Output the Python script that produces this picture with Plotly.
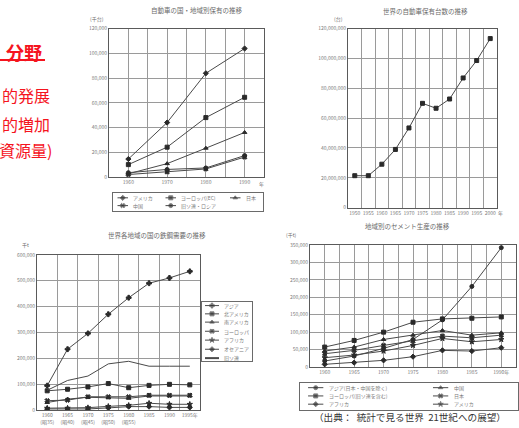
import plotly.graph_objects as go

W, H = 519, 428
FONT = "Noto Sans CJK JP"
RED = "#f5141e"
INK = "#4a4a4a"
TXT = "#7a7a7a"
GRID = "#9a9a9a"

# ---------- 自動車の国・地域別保有の推移 (千台) ----------
c1_years = ["1960", "1970", "1980", "1990"]
c1_names = ["アメリカ", "ヨーロッパ(EC)", "日本", "中国", "旧ソ連・ロシア"]
c1_s1 = [14600, 44100, 83900, 103900]
c1_s2 = [10100, 24200, 48100, 64500]
c1_s3 = [2700, 10900, 23400, 36100]
c1_s4 = [2100, 4200, 6600, 16200]
c1_s5 = [3600, 6200, 7400, 17400]
c1_yticks = [0, 20000, 40000, 60000, 80000, 100000, 120000]

# ---------- 世界の自動車保有台数の推移 (台) ----------
c2_years = ["1950", "1955", "1960", "1965", "1970", "1975",
            "1980", "1985", "1990", "1995", "2000"]
c2_values = [21400000, 21400000, 29100000, 39000000, 53400000, 69900000,
             66600000, 72800000, 86900000, 98600000, 113300000]
c2_yticks = [0, 20000000, 40000000, 60000000, 80000000, 100000000, 120000000]

# ---------- 世界各地域の国の鉄鋼需要の推移 (千t) ----------
c3_years = ["1960<br>(昭35)", "1965<br>(昭40)", "1970<br>(昭45)", "1975<br>(昭50)",
            "1980<br>(昭55)", "1985", "1990", "1995年"]
c3_names = ["アジア", "北アメリカ", "南アメリカ", "ヨーロッパ", "アフリカ", "オセアニア", "旧ソ連"]
c3_asia = [95000, 235700, 296800, 370700, 434400, 490400, 510800, 536300]
c3_namerica = [75000, 81000, 90000, 103000, 87000, 96000, 100000, 98000]
c3_samerica = [30000, 43000, 50000, 48000, 46000, 55000, 55000, 55000]
c3_europe = [37000, 39000, 52000, 52000, 52000, 58000, 58000, 58000]
c3_africa = [8000, 8000, 10000, 15000, 19000, 27000, 23000, 23000]
c3_oceania = [5000, 5000, 5000, 9000, 14000, 14000, 11000, 11000]
c3_ussr = [77000, 115000, 132000, 179000, 189000, 170000, 170000, 170000]
c3_yticks = [0, 100000, 200000, 300000, 400000, 500000, 600000]

# ---------- 地域別のセメント生産の推移 (千t) ----------
c4_years = ["1960", "1965", "1970", "1975", "1980", "1985", "1990年"]
c4_names = ["アジア(日本・中国を除く)", "ヨーロッパ(旧ソ連を含む)", "アフリカ",
            "中国", "日本", "アメリカ"]
c4_s1 = [17100, 31400, 53300, 78900, 135100, 231100, 342400]
c4_s2 = [57100, 76100, 99900, 128400, 137900, 139800, 143600]
c4_s3 = [7600, 12400, 19000, 29500, 47600, 45700, 55200]
c4_s4 = [45700, 57100, 78900, 91300, 104600, 91300, 98000]
c4_s5 = [38000, 47600, 61800, 74200, 88500, 83700, 91300]
c4_s6 = [26600, 34200, 45700, 61800, 81800, 72300, 78900]
c4_yticks = [0, 50000, 100000, 150000, 200000, 250000, 300000, 350000]


def px_x(p):
    return p / W


def px_y(p):
    return 1 - p / H


fig = go.Figure()
layout = {}
annotations = []


def add_panel(idx, box, labels, yticks, grid_on_points):
    """Axis pair for one panel; box = (left, top, right, bottom) in pixels."""
    l, t, r, b = box
    n = len(labels)
    xa = dict(
        domain=[px_x(l), px_x(r)], range=[-0.5, n - 0.5], anchor=f"y{idx}",
        tickmode="array", tickvals=list(range(n)), ticktext=labels,
        showgrid=grid_on_points, gridcolor=GRID, gridwidth=1,
        minor=dict(tick0=-0.5, dtick=1, showgrid=True, gridcolor=GRID, gridwidth=1),
        showline=True, mirror=True, linecolor="#5a5a5a", linewidth=1,
        ticks="", zeroline=False, fixedrange=True,
        tickfont=dict(family=FONT, size=5, color=TXT),
    )
    ya = dict(
        domain=[px_y(b), px_y(t)], range=[0, yticks[-1]], anchor=f"x{idx}",
        tickmode="array", tickvals=yticks,
        ticktext=[f"{v:,}" for v in yticks],
        showgrid=True, gridcolor=GRID, gridwidth=1,
        showline=True, mirror=True, linecolor="#5a5a5a", linewidth=1,
        ticks="", zeroline=False, fixedrange=True,
        tickfont=dict(family=FONT, size=5, color=TXT),
    )
    layout[f"xaxis{idx}"] = xa
    layout[f"yaxis{idx}"] = ya


def add_series(idx, labels, values, symbol, width=1, size=4):
    mode = "lines+markers" if symbol else "lines"
    fig.add_trace(go.Scatter(
        x=list(range(len(labels))), y=values, mode=mode,
        xaxis=f"x{idx}", yaxis=f"y{idx}",
        line=dict(color=INK, width=width),
        marker=dict(symbol=symbol or "circle", size=size, color="#2a2a2a",
                    line=dict(color="#2a2a2a", width=1)),
        hoverinfo="skip", showlegend=False,
    ))


def add_key_box(idx, box, entries, cols, rows, key_w, text_gap, row_major):
    """Boxed key: entries = list of (name, symbol, width); cols/rows = fractional slots."""
    l, t, r, b = box
    for axis, dom in (("x", [px_x(l), px_x(r)]), ("y", [px_y(b), px_y(t)])):
        layout[f"{axis}axis{idx}"] = dict(
            domain=dom, range=[0, 1], anchor=f"{'y' if axis == 'x' else 'x'}{idx}",
            showgrid=False, zeroline=False, showticklabels=False,
            showline=True, mirror=True, linecolor="#6a6a6a",
            linewidth=1, ticks="", fixedrange=True)
    for i, (name, symbol, width) in enumerate(entries):
        if row_major:
            cx, ry = cols[i % len(cols)], rows[i // len(cols)]
        else:
            cx, ry = cols[i // len(rows)], rows[i % len(rows)]
        fig.add_trace(go.Scatter(
            x=[cx, cx + key_w / 2, cx + key_w], y=[ry, ry, ry],
            mode="lines+markers" if symbol else "lines",
            xaxis=f"x{idx}", yaxis=f"y{idx}",
            line=dict(color=INK, width=width),
            marker=dict(symbol=symbol or "circle", size=[0, 4, 0], color="#2a2a2a"),
            hoverinfo="skip", showlegend=False,
        ))
        annotations.append(dict(
            x=cx + key_w + text_gap, y=ry, xref=f"x{idx}", yref=f"y{idx}",
            text=name, showarrow=False, xanchor="left", yanchor="middle",
            font=dict(family=FONT, size=5, color=TXT),
        ))


# panel 1
add_panel(1, (109, 25, 264, 176), c1_years, c1_yticks, True)
c1_symbols = ["diamond", "square", "triangle-up", "x", "circle"]
for vals, sym in zip([c1_s1, c1_s2, c1_s3, c1_s4, c1_s5], c1_symbols):
    add_series(1, c1_years, vals, sym)

# panel 2
add_panel(2, (348, 25, 497, 207), c2_years, c2_yticks, False)
add_series(2, c2_years, c2_values, "square", size=4)

# panel 3
add_panel(3, (37, 255, 200, 413), c3_years, c3_yticks, False)
c3_series = [c3_asia, c3_namerica, c3_samerica, c3_europe, c3_africa, c3_oceania, c3_ussr]
c3_symbols = ["cross", "square", "triangle-up", "x", "star", "diamond", None]
for vals, sym in zip(c3_series, c3_symbols):
    add_series(3, c3_years, vals, sym, width=1)

# panel 4
add_panel(4, (310, 245, 516, 369), c4_years, c4_yticks, True)
c4_series = [c4_s1, c4_s2, c4_s3, c4_s4, c4_s5, c4_s6]
c4_symbols = ["circle", "square", "diamond", "triangle-up", "x", "star"]
for vals, sym in zip(c4_series, c4_symbols):
    add_series(4, c4_years, vals, sym)

# key boxes
add_key_box(5, (113, 192, 263, 210),
            [(n, s, 1) for n, s in zip(c1_names, c1_symbols)],
            cols=[0.03, 0.35, 0.78], rows=[0.72, 0.28], key_w=0.07, text_gap=0.02,
            row_major=True)
add_key_box(6, (202, 303, 252, 363),
            [(n, s, 2 if s is None else 1) for n, s in zip(c3_names, c3_symbols)],
            cols=[0.06], rows=[0.94, 0.80, 0.66, 0.505, 0.355, 0.20, 0.05],
            key_w=0.28, text_gap=0.06, row_major=False)
add_key_box(7, (300, 385, 518, 413),
            [(n, s, 1) for n, s in zip(c4_names, c4_symbols)],
            cols=[0.037, 0.61], rows=[0.82, 0.52, 0.22], key_w=0.07, text_gap=0.015,
            row_major=False)

# titles, units, year marks
for text, x, y, size in [
    ("自動車の国・地域別保有の推移", 197, 6, 6.5),
    ("世界の自動車保有台数の推移", 425, 7, 6.5),
    ("世界各地域の国の鉄鋼需要の推移", 157, 235, 6.5),
    ("地域別のセメント生産の推移", 407, 226, 6.5),
    ("(千台)", 97, 15, 5),
    ("(台)", 338, 15, 5),
    ("千t", 25, 245, 5),
    ("(千t)", 291, 235, 5),
    ("年", 261, 183, 5),
    ("年", 500, 212, 5),
]:
    annotations.append(dict(x=px_x(x), y=px_y(y), xref="paper", yref="paper", text=text,
                            showarrow=False, xanchor="center", yanchor="middle",
                            font=dict(family=FONT, size=size, color="#6a6a6a")))

# red heading block on the left edge
for text, x, y, size in [
    ("<b>分野</b>", 44, 49, 18),
    ("的発展", 52, 93, 16),
    ("的増加", 52, 122, 16),
    ("資源量)", 54, 148, 16),
]:
    annotations.append(dict(x=px_x(x), y=px_y(y), xref="paper", yref="paper", text=text,
                            showarrow=False, xanchor="right", yanchor="middle",
                            font=dict(family=FONT, size=size, color=RED)))

# source line
annotations.append(dict(x=px_x(312), y=px_y(420), xref="paper", yref="paper",
                        text="（出典：  統計で見る世界  21世紀への展望）",
                        showarrow=False, xanchor="left", yanchor="middle",
                        font=dict(family=FONT, size=9.6, color="#333333")))

fig.update_layout(
    width=W, height=H,
    margin=dict(l=0, r=0, t=0, b=0),
    paper_bgcolor="white", plot_bgcolor="white",
    showlegend=False,
    annotations=annotations,
    shapes=[dict(type="line", xref="paper", yref="paper",
                 x0=0, x1=px_x(45), y0=px_y(57), y1=px_y(57),
                 line=dict(color=RED, width=2))],
    **layout,
)

fig.write_html("out.html")
